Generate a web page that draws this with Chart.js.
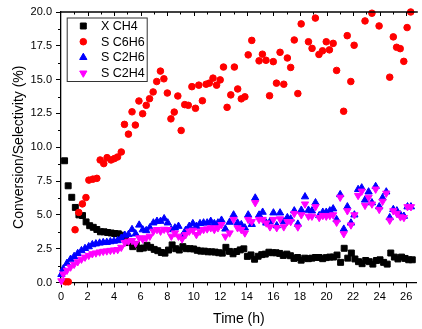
<!DOCTYPE html>
<html>
<head>
<meta charset="utf-8">
<script src="https://cdn.jsdelivr.net/npm/chart.js@4/dist/chart.umd.min.js"></script>
<style>
  html, body { margin: 0; padding: 0; background: #fff; }
  #wrap { width: 422px; height: 329px; }
</style>
</head>
<body>
<div id="wrap"><canvas id="conv"></canvas></div>
<script>
// time on stream (h) and CH4 conversion (%)
const tCH4 = [0.27,0.54,0.81,1.08,1.35,1.62,1.89,2.16,2.43,2.70,
  2.97,3.24,3.51,3.78,4.05,4.32,4.59,4.86,5.13,5.40,
  5.67,5.94,6.21,6.48,6.75,7.02,7.29,7.56,7.83,8.10,
  8.37,8.64,8.91,9.18,9.45,9.72,9.99,10.26,10.53,10.80,
  11.07,11.34,11.61,11.88,12.15,12.42,12.69,12.96,13.23,13.50,
  13.77,14.04,14.31,14.58,14.85,15.12,15.39,15.66,15.93,16.20,
  16.47,16.74,17.01,17.28,17.55,17.82,18.09,18.36,18.63,18.90,
  19.17,19.44,19.71,19.98,20.25,20.52,20.79,21.06,21.33,21.60,
  21.87,22.14,22.41,22.68,22.95,23.22,23.49,23.76,24.03,24.30,
  24.57,24.84,25.11,25.38,25.65,25.92,26.19,26.46];
const xCH4 = [9.00,7.15,6.30,5.55,5.00,4.95,4.48,4.20,4.08,3.92,
  3.75,3.75,3.70,3.66,3.62,3.60,3.50,3.40,2.95,2.65,
  2.80,2.50,2.55,2.75,2.60,2.45,2.35,2.22,2.17,2.40,
  2.78,2.50,2.40,2.65,2.50,2.50,2.48,2.38,2.32,2.32,
  2.27,2.27,2.25,2.20,2.17,2.60,2.30,2.12,2.29,2.41,
  2.49,1.93,2.04,1.72,1.94,2.06,2.10,2.24,2.20,2.20,
  2.15,2.00,2.10,1.98,1.78,1.85,1.65,1.80,1.76,1.80,
  1.85,1.85,1.76,1.84,1.88,1.88,2.03,1.49,2.53,1.80,
  2.18,1.74,1.54,1.39,1.63,1.54,1.36,1.63,1.68,1.49,
  1.36,2.18,1.88,1.74,1.88,1.78,1.68,1.68];

// benzene selectivity (%)
const tC6H6 = [0.35,0.55,1.06,1.34,1.61,1.88,2.10,2.40,2.70,2.95,
  3.22,3.47,3.77,4.02,4.26,4.54,4.78,5.08,5.35,5.60,
  5.87,6.15,6.42,6.67,6.94,7.21,7.49,7.75,8.01,8.28,
  8.53,8.80,9.05,9.32,9.59,9.86,10.13,10.38,10.65,10.93,
  11.17,11.45,11.72,11.99,12.24,12.51,12.79,13.06,13.31,13.58,
  13.85,14.10,14.37,14.92,15.17,15.44,15.71,15.99,16.23,16.50,
  16.78,17.05,17.30,17.57,17.84,18.09,18.64,18.91,19.16,19.43,
  19.70,19.98,20.22,20.50,20.76,21.29,21.56,21.83,22.08,22.90,
  23.42,23.96,24.76,25.03,25.28,25.55,25.82,26.07,26.34];
const sC6H6 = [0.05,0.05,3.90,5.18,5.81,6.28,7.57,7.64,7.70,9.06,
  8.79,9.23,9.06,9.16,9.28,9.65,11.69,10.97,12.62,11.64,
  13.42,12.48,13.10,13.59,14.09,14.86,15.63,15.06,14.01,12.10,
  12.60,13.79,11.24,13.15,13.10,14.48,12.88,14.59,13.44,14.66,
  14.74,15.11,14.59,14.98,15.93,12.95,13.87,15.93,14.31,13.58,
  13.73,16.83,17.90,16.39,16.88,16.43,13.81,16.33,14.74,17.02,
  14.66,16.60,15.90,17.93,13.97,19.12,17.80,17.31,19.55,16.86,
  17.13,17.80,17.20,17.68,15.68,12.66,18.25,14.86,17.54,19.34,
  19.91,18.97,15.18,18.16,17.39,17.29,16.35,18.85,20.00];

// ethane / ethylene selectivity (%), same sampling times
const tC2 = [0.03,0.17,0.45,0.72,0.99,1.26,1.54,1.81,2.09,2.36,
  2.63,2.91,3.18,3.45,3.72,3.99,4.27,4.54,4.81,5.08,
  5.35,5.62,5.89,6.16,6.42,6.69,6.96,7.23,7.50,7.77,
  8.04,8.31,8.58,8.85,9.12,9.39,9.66,9.93,10.20,10.47,
  10.74,11.01,11.28,11.55,11.82,12.09,12.38,12.70,13.00,13.30,
  13.58,13.85,14.10,14.37,14.63,14.92,15.19,15.46,15.74,16.00,
  16.25,16.50,16.78,17.05,17.30,17.57,17.84,18.10,18.38,18.64,
  18.90,19.17,19.45,19.72,19.98,20.25,20.50,20.76,21.03,21.30,
  21.57,21.84,22.10,22.38,22.65,22.90,23.17,23.42,23.70,23.97,
  24.22,24.50,24.76,25.03,25.30,25.57,25.83,26.10,26.36];
const sC2H6 = [0.60,1.00,1.42,1.72,1.93,2.15,2.36,2.52,2.65,2.80,
  2.86,2.92,2.96,2.97,3.02,3.06,3.10,3.28,3.50,3.55,
  3.92,3.60,4.25,3.90,3.84,4.05,4.41,4.53,4.53,4.72,
  4.41,3.91,4.04,4.16,3.42,3.86,4.16,4.36,4.16,4.36,
  4.41,4.41,4.53,4.36,4.41,4.61,3.96,4.46,5.00,4.40,
  4.28,4.04,5.00,4.30,6.25,4.99,5.20,4.40,4.50,5.15,
  4.20,5.15,4.50,4.80,4.70,5.30,4.32,5.35,6.34,5.35,
  5.30,5.90,4.95,5.20,5.20,5.30,5.45,4.65,6.50,3.95,
  5.60,4.40,5.00,6.88,7.00,6.10,6.70,5.90,7.10,5.60,
  6.25,6.70,4.80,5.40,5.30,5.00,4.90,5.60,5.60];
const sC2H4 = [0.12,0.62,0.90,1.14,1.34,1.53,1.72,1.87,2.00,2.12,
  2.18,2.25,2.30,2.33,2.37,2.40,2.43,2.60,2.95,3.05,
  3.10,2.90,3.30,3.20,3.30,3.42,3.79,3.91,3.79,3.93,
  3.91,3.42,3.66,3.42,3.22,3.54,3.79,3.86,3.54,3.79,
  3.91,3.96,4.04,3.91,4.04,4.28,3.42,3.66,4.66,4.04,
  3.91,3.66,4.66,4.50,5.90,4.66,4.66,4.40,4.11,4.66,
  4.05,4.70,4.11,4.50,4.50,5.10,4.10,5.00,5.80,4.90,
  4.90,5.60,4.80,4.95,4.90,4.95,5.00,4.45,6.30,3.60,
  5.30,4.25,5.00,6.43,6.75,5.70,6.30,5.80,6.90,5.40,
  6.00,6.60,4.60,5.30,5.10,4.85,4.80,5.60,5.60];

const FONT = '"Liberation Sans", Arial, sans-serif';
Chart.defaults.font.family = FONT;

const pts = (t, v) => t.map((x, i) => ({x: x, y: v[i]}));

// boxed legend in the upper left corner of the plot
const boxLegend = {
  id: 'boxLegend',
  afterDraw(chart) {
    const ctx = chart.ctx;
    const a = chart.chartArea;
    const left = a.left + 5.7, top = a.top + 5.5;
    ctx.save();
    ctx.fillStyle = '#fff';
    ctx.fillRect(left, top, 80, 63.5);
    ctx.strokeStyle = '#333';
    ctx.lineWidth = 1;
    ctx.strokeRect(left + 0.5, top + 0.5, 80, 63.5);
    ctx.font = '12.5px ' + FONT;
    ctx.textBaseline = 'middle';
    chart.data.datasets.forEach((ds, i) => {
      const y = top + 8.5 + i * 15.7;
      ctx.fillStyle = ds.backgroundColor;
      ctx.strokeStyle = ds.borderColor;
      Chart.helpers.drawPoint(ctx, {
        pointStyle: ds.pointStyle, rotation: ds.rotation || 0,
        radius: ds.pointRadius, borderWidth: 1
      }, left + 16.6, y);
      ctx.fillStyle = '#000';
      ctx.fillText(ds.label, left + 34.3, y + 0.5);
    });
    ctx.restore();
  }
};

// minor ticks, top frame line with inward ticks
const frameTicks = {
  id: 'frameTicks',
  afterDraw(chart) {
    const {ctx, chartArea: a, scales: {x, y}} = chart;
    ctx.save();
    ctx.strokeStyle = '#000';
    ctx.lineWidth = 1;
    ctx.beginPath();
    for (let h = 1; h < x.max; h += 2) {
      const px = Math.round(x.getPixelForValue(h)) + 0.5;
      ctx.moveTo(px, a.bottom); ctx.lineTo(px, a.bottom + 3);
    }
    for (let h = 1; h < x.max; h += 1) {
      const px = Math.round(x.getPixelForValue(h)) + 0.5;
      ctx.moveTo(px, a.top); ctx.lineTo(px, a.top + (h % 2 ? 2.5 : 4));
    }
    for (let v = 1.25; v < y.max; v += 2.5) {
      const py = Math.round(y.getPixelForValue(v)) + 0.5;
      ctx.moveTo(a.left, py); ctx.lineTo(a.left - 3, py);
    }
    ctx.stroke();
    ctx.lineWidth = 1.3;
    ctx.beginPath();
    ctx.moveTo(a.left, a.top); ctx.lineTo(a.right + 1, a.top);
    ctx.stroke();
    ctx.restore();
  }
};

new Chart(document.getElementById('conv'), {
  type: 'scatter',
  data: {
    datasets: [
      {label: 'X CH4', data: pts(tCH4, xCH4), pointStyle: 'rect', pointRadius: 4.2,
       backgroundColor: '#000000', borderColor: '#000000', borderWidth: 1, order: 4, clip: false},
      {label: 'S C6H6', data: pts(tC6H6, sC6H6), pointStyle: 'circle', pointRadius: 3.3,
       backgroundColor: '#ff0000', borderColor: '#ff0000', borderWidth: 1, order: 3, clip: false},
      {label: 'S C2H6', data: pts(tC2, sC2H6), pointStyle: 'triangle', pointRadius: 4.2,
       backgroundColor: '#0000ff', borderColor: '#0000ff', borderWidth: 1, order: 2, clip: false},
      {label: 'S C2H4', data: pts(tC2, sC2H4), pointStyle: 'triangle', rotation: 180, pointRadius: 4.2,
       backgroundColor: '#ff00ff', borderColor: '#ff00ff', borderWidth: 1, order: 1, clip: false}
    ]
  },
  options: {
    responsive: true,
    maintainAspectRatio: false,
    animation: false,
    layout: {padding: {top: 12, right: 1, left: 0, bottom: 0}},
    plugins: {legend: {display: false}, tooltip: {enabled: false}},
    scales: {
      x: {
        type: 'linear', min: 0, max: 26.8,
        border: {color: '#000', width: 1.3},
        grid: {drawOnChartArea: false, tickLength: 5, color: '#000', lineWidth: 1},
        ticks: {stepSize: 2, includeBounds: false, padding: 3, color: '#000',
                font: {size: 11}, maxRotation: 0, autoSkip: false},
        title: {display: true, text: 'Time (h)', color: '#000', font: {size: 14},
                padding: {top: 0, bottom: 1.5}},
        afterFit: s => { s.height = 46.5; }
      },
      y: {
        type: 'linear', min: 0, max: 20,
        border: {color: '#000', width: 1.3},
        grid: {drawOnChartArea: false, tickLength: 5, color: '#000', lineWidth: 1},
        ticks: {stepSize: 2.5, includeBounds: false, padding: 4, color: '#000',
                font: {size: 11}, callback: v => v.toFixed(1)},
        title: {display: true, text: 'Conversion/Selectivity (%)', color: '#000',
                font: {size: 14}, padding: {top: 10.5, bottom: 0}},
        afterFit: s => { s.width = 61; }
      }
    }
  },
  plugins: [frameTicks, boxLegend]
});
</script>
</body>
</html>
